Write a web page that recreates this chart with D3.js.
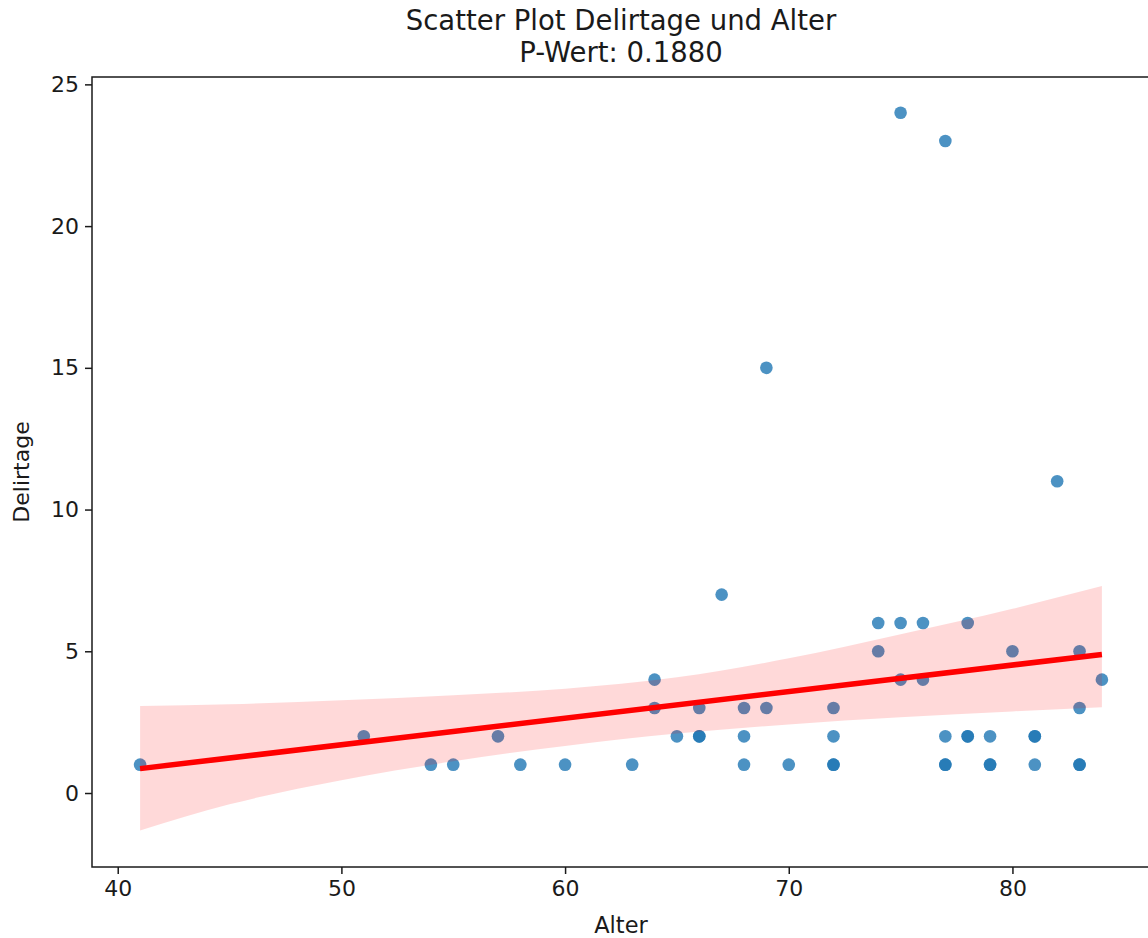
<!DOCTYPE html>
<html>
<head>
<meta charset="utf-8">
<script src="https://cdn.jsdelivr.net/npm/d3@7"></script>
<style>
  body { margin: 0; background: #fff; }
  svg text { font-family: "DejaVu Sans", sans-serif; fill: #1a1a1a; }
</style>
</head>
<body>
<div id="chart"></div>
<script>
// age (Alter) and delirium days (Delirtage) per patient
const alter = [41, 51, 54, 55, 57, 58, 60, 63, 64, 64, 65, 66, 66, 66, 67, 68, 68, 68,
  69, 69, 70, 72, 72, 72, 72, 74, 74, 75, 75, 75, 76, 76, 77, 77, 77, 77, 78, 78, 78,
  79, 79, 79, 80, 81, 81, 81, 82, 83, 83, 83, 83, 84];
const delirtage = [1, 2, 1, 1, 2, 1, 1, 1, 4, 3, 2, 2, 2, 3, 7, 3, 2, 1,
  15, 3, 1, 3, 2, 1, 1, 6, 5, 24, 6, 4, 6, 4, 23, 2, 1, 1, 6, 2, 2,
  2, 1, 1, 5, 2, 2, 1, 11, 5, 3, 1, 1, 4];

// regression line and its confidence band
const fitX = [41, 84];
const fitY = [0.86, 4.89];
const bandX = [41, 45, 50, 55, 60, 65, 70, 75, 80, 84];
const bandUpper = [3.07, 3.13, 3.27, 3.45, 3.68, 4.08, 4.75, 5.6, 6.5, 7.3];
const bandLower = [-1.32, -0.4, 0.45, 1.12, 1.66, 2.1, 2.42, 2.67, 2.88, 3.03];

const xTicks = [40, 50, 60, 70, 80];
const yTicks = [0, 5, 10, 15, 20, 25];

const width = 1148, height = 938;
const plot = { left: 92, top: 77, right: 1150, bottom: 867 };

const svg = d3.select('#chart').append('svg')
  .attr('width', width)
  .attr('height', height);

const x = d3.scaleLinear().domain([38.85, 86.15]).range([plot.left, plot.right]);
const y = d3.scaleLinear().domain([-2.61, 25.26]).range([plot.bottom, plot.top]);

// points first, band and line go on top
const pts = alter.map((a, i) => ({ a: a, d: delirtage[i] }));
svg.append('g').selectAll('circle')
  .data(pts)
  .enter().append('circle')
  .attr('cx', p => x(p.a))
  .attr('cy', p => y(p.d))
  .attr('r', 6.3)
  .attr('fill', '#1f77b4')
  .attr('fill-opacity', 0.8);

const band = bandX.map((b, i) => ({ x: b, lo: bandLower[i], hi: bandUpper[i] }));
const area = d3.area()
  .x(d => x(d.x))
  .y0(d => y(d.lo))
  .y1(d => y(d.hi))
  .curve(d3.curveMonotoneX);
svg.append('path')
  .attr('d', area(band))
  .attr('fill', 'red')
  .attr('fill-opacity', 0.15);

const line = d3.line().x(d => x(d[0])).y(d => y(d[1]));
svg.append('path')
  .attr('d', line(fitX.map((v, i) => [v, fitY[i]])))
  .attr('fill', 'none')
  .attr('stroke', 'red')
  .attr('stroke-width', 5.5);

// axes
const xAxis = svg.append('g')
  .attr('transform', `translate(0,${plot.bottom})`)
  .call(d3.axisBottom(x).tickValues(xTicks).tickSize(7).tickPadding(6));
const yAxis = svg.append('g')
  .attr('transform', `translate(${plot.left},0)`)
  .call(d3.axisLeft(y).tickValues(yTicks).tickSize(7).tickPadding(6));
[xAxis, yAxis].forEach(g => {
  g.select('.domain').remove();
  g.selectAll('line').attr('stroke', '#1a1a1a').attr('stroke-width', 1.5);
  g.selectAll('text').style('font-size', '22px').attr('fill', '#1a1a1a');
});

svg.append('rect')
  .attr('x', plot.left)
  .attr('y', plot.top)
  .attr('width', plot.right - plot.left)
  .attr('height', plot.bottom - plot.top)
  .attr('fill', 'none')
  .attr('stroke', '#1a1a1a')
  .attr('stroke-width', 1.5);

// labels and title
const cx = (plot.left + plot.right) / 2;
svg.append('text')
  .attr('x', cx)
  .attr('y', 933)
  .attr('text-anchor', 'middle')
  .style('font-size', '22.5px')
  .text('Alter');

svg.append('text')
  .attr('transform', `translate(29,${(plot.top + plot.bottom) / 2}) rotate(-90)`)
  .attr('text-anchor', 'middle')
  .style('font-size', '22px')
  .text('Delirtage');

svg.append('text')
  .attr('x', cx)
  .attr('y', 30)
  .attr('text-anchor', 'middle')
  .style('font-size', '27.5px')
  .text('Scatter Plot Delirtage und Alter');
svg.append('text')
  .attr('x', cx)
  .attr('y', 62)
  .attr('text-anchor', 'middle')
  .style('font-size', '27.5px')
  .text('P-Wert: 0.1880');
</script>
</body>
</html>
